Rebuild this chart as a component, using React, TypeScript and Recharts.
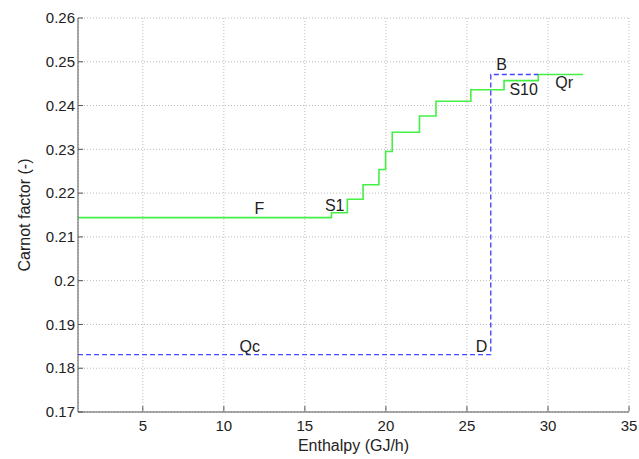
import { LineChart, Line, XAxis, YAxis, CartesianGrid, ReferenceDot } from 'recharts';

// hot composite curve (green), step values
const hotEnthalpy = [1, 16.64, 17.62, 18.59, 19.57, 19.98, 20.39, 22.07, 23.09, 25.24, 27.29, 29.4, 32.17];
const hotCarnot = [0.2144, 0.2155, 0.2186, 0.2219, 0.2254, 0.2295, 0.2339, 0.2376, 0.241, 0.2436, 0.2457, 0.2471, 0.2471];

// cold curve (blue dashed)
const coldEnthalpy = [1, 26.47, 29.4];
const coldCarnot = [0.1831, 0.2471, 0.2471];

const xTicks = [5, 10, 15, 20, 25, 30, 35];
const yTicks = [0.17, 0.18, 0.19, 0.2, 0.21, 0.22, 0.23, 0.24, 0.25, 0.26];

const notes = ['F', 'S1', 'B', 'S10', 'Qr', 'Qc', 'D'];
const noteX = [12.2, 16.84, 27.14, 28.5, 31.0, 11.6, 25.9];
const noteY = [0.2166, 0.2171, 0.2495, 0.2436, 0.2453, 0.185, 0.1851];

const hotData = hotEnthalpy.map((h, i) => ({ h, c: hotCarnot[i] }));
const coldData = coldEnthalpy.map((h, i) => ({ h, c: coldCarnot[i] }));

const FONT = '"Liberation Sans", Arial, sans-serif';
const AXIS = '#555';

const fmt = (v: number) => String(Number(v.toFixed(2)));

// matlab style ticks: label outside, tick mark pointing into the plot
const YTick = (props: any) => {
  const { x, y, payload } = props;
  return (
    <g>
      <line x1={x + 3} x2={x + 8} y1={y} y2={y} stroke={AXIS} />
      <text x={x} y={y} dy="0.35em" textAnchor="end" fontSize={15} fill="#222" fontFamily={FONT}>
        {fmt(payload.value)}
      </text>
    </g>
  );
};

const XTick = (props: any) => {
  const { x, y, payload } = props;
  return (
    <g>
      <line x1={x} x2={x} y1={y - 9} y2={y - 14} stroke={AXIS} />
      <text x={x} y={y} dy="0.71em" textAnchor="middle" fontSize={15} fill="#222" fontFamily={FONT}>
        {payload.value}
      </text>
    </g>
  );
};

export default function App() {
  return (
    <div style={{ position: 'absolute', left: 0, top: 0, width: 639, height: 459, background: '#fff' }}>
      <LineChart width={639} height={459} margin={{ top: 18, right: 10, bottom: 0, left: 0 }}>
        <CartesianGrid strokeDasharray="1 2" stroke="#bbb" />
        <XAxis
          dataKey="h"
          type="number"
          domain={[1, 35]}
          ticks={xTicks}
          allowDataOverflow
          height={47}
          stroke={AXIS}
          tickLine={false}
          tickSize={0}
          tickMargin={8}
          tick={<XTick />}
          label={{ value: 'Enthalpy (GJ/h)', position: 'insideBottom', offset: 8, fontSize: 16, fill: '#222', fontFamily: FONT }}
        />
        <XAxis xAxisId="top" orientation="top" type="number" domain={[1, 35]} height={0} tick={false} tickLine={false} stroke={AXIS} />
        <YAxis
          type="number"
          domain={[0.17, 0.26]}
          ticks={yTicks}
          allowDataOverflow
          width={78}
          stroke={AXIS}
          tickLine={false}
          tickSize={0}
          tickMargin={3}
          tick={<YTick />}
          label={{
            value: 'Carnot factor (-)',
            angle: -90,
            position: 'insideLeft',
            offset: 24,
            fontSize: 16,
            fill: '#222',
            fontFamily: FONT,
            style: { textAnchor: 'middle' },
          }}
        />
        <YAxis yAxisId="right" orientation="right" type="number" domain={[0.17, 0.26]} width={0} tick={false} tickLine={false} stroke={AXIS} />
        <Line
          data={hotData}
          dataKey="c"
          type="stepAfter"
          stroke="#44f044"
          strokeWidth={1.6}
          dot={false}
          isAnimationActive={false}
        />
        <Line
          data={coldData}
          dataKey="c"
          type="stepAfter"
          stroke="#4646ff"
          strokeWidth={1.4}
          strokeDasharray="5 3"
          dot={false}
          isAnimationActive={false}
        />
        {notes.map((n, i) => (
          <ReferenceDot
            key={n}
            x={noteX[i]}
            y={noteY[i]}
            r={0}
            stroke="none"
            fill="none"
            label={{ value: n, position: 'center', fontSize: 16, fill: '#222', fontFamily: FONT }}
          />
        ))}
      </LineChart>
    </div>
  );
}
